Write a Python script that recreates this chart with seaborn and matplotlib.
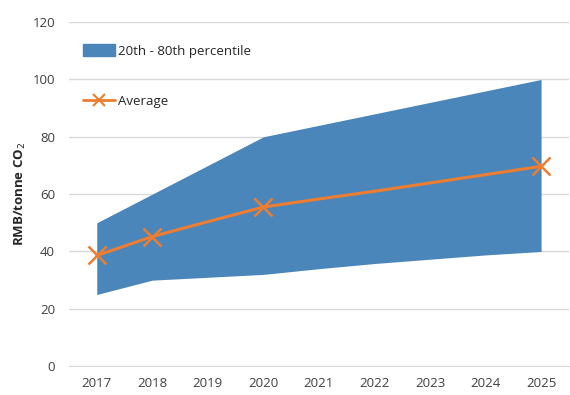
import seaborn as sns
import matplotlib.pyplot as plt
import pandas as pd
from matplotlib.patches import Patch
from matplotlib.lines import Line2D

years = [2017, 2018, 2019, 2020, 2021, 2022, 2023, 2024, 2025]
p20 = [25, 30, 31, 32, 34, 35.8, 37.3, 38.8, 40]
p80 = [50, 60, 70, 80, 84, 88, 92, 96, 100]
average = [38.6, 45.2, 50.4, 55.5, 58.3, 61.0, 63.9, 66.8, 69.7]
marked_years = [2017, 2018, 2020, 2025]

df = pd.DataFrame({"year": years, "p20": p20, "p80": p80, "avg": average})

sns.set_style("white")
plt.rcParams["font.family"] = ["Open Sans", "DejaVu Sans"]

blue = "#4A86BA"
orange = "#ED7D31"

fig = plt.figure(figsize=(5.7, 3.95), dpi=100)
ax = fig.add_axes([0.121, 0.073, 0.877, 0.871])

ax.fill_between(df["year"], df["p20"], df["p80"], color=blue, lw=0, zorder=2)
marks = [years.index(y) for y in marked_years]
sns.lineplot(data=df, x="year", y="avg", color=orange, lw=2.2, ax=ax, zorder=3,
             marker="x", markersize=13, markeredgewidth=1.8, markeredgecolor=orange,
             markevery=marks)

ax.set_xlim(2016.5, 2025.5)
ax.set_ylim(0, 120)
ax.set_yticks(range(0, 121, 20))
ax.set_xticks(years)
ax.set_xticks([y - 0.5 for y in years] + [2025.5], minor=True)
ax.yaxis.grid(True, color="#d9d9d9", lw=1, zorder=0)
for s in ["left", "right", "top"]:
    ax.spines[s].set_visible(False)
ax.spines["bottom"].set_color("#d9d9d9")
ax.tick_params(axis="x", which="major", length=0, pad=8, labelsize=9.5, colors="#404040")
ax.tick_params(axis="x", which="minor", length=5, color="#d9d9d9")
ax.tick_params(axis="y", length=0, pad=10, labelsize=9.5, colors="#404040")
ax.set_xlabel("")
ax.set_ylabel("RMB/tonne CO$_2$", fontsize=9.5, fontweight="bold", labelpad=3)

handles = [Patch(color=blue), Line2D([], [], color=orange, lw=2, marker="x",
                                     markersize=8, markeredgewidth=1.5)]
leg = ax.legend(handles, ["20th - 80th percentile", "Average"], loc="upper left",
                bbox_to_anchor=(0.005, 0.97), frameon=False, fontsize=9.5,
                labelspacing=2.8, handlelength=2.4, handleheight=1.0, handletextpad=0.2)

fig.savefig("out.png", dpi=100)
